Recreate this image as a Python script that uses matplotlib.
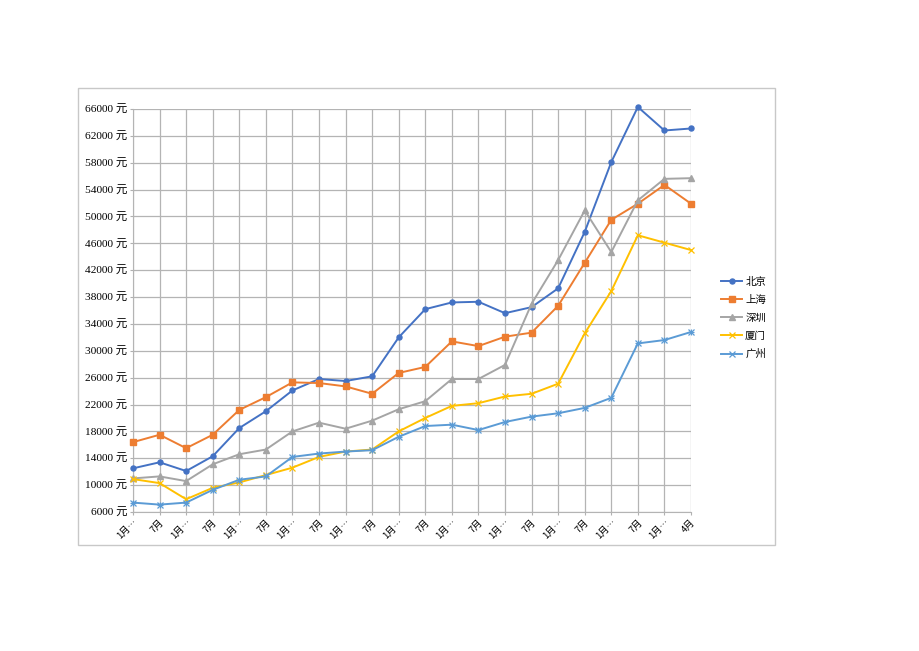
import matplotlib
matplotlib.use("Agg")
import matplotlib.pyplot as plt
from matplotlib.patches import Rectangle

plt.rcParams['font.family'] = ['Noto Sans CJK SC', 'DejaVu Sans']

x_labels = ["1月…", "7月"] * 10 + ["1月…", "4月"]

beijing = [12500, 13400, 12100, 14300, 18500, 21000, 24100, 25800, 25500, 26200,
           32000, 36200, 37200, 37300, 35600, 36500, 39300, 47700, 58100, 66300,
           62800, 63100]
shanghai = [16400, 17500, 15500, 17500, 21200, 23100, 25300, 25200, 24700, 23600,
            26700, 27600, 31400, 30700, 32100, 32700, 36700, 43100, 49500, 51900,
            54700, 51900]
shenzhen = [11000, 11300, 10600, 13100, 14600, 15300, 18000, 19300, 18400, 19600,
            21300, 22500, 25800, 25800, 27900, 37000, 43500, 50900, 44700, 52400,
            55600, 55700]
xiamen = [10900, 10300, 7900, 9600, 10400, 11500, 12600, 14200, 15000, 15300,
          18000, 20000, 21800, 22200, 23200, 23600, 25100, 32600, 38900, 47200,
          46100, 45000]
guangzhou = [7400, 7100, 7400, 9300, 10800, 11300, 14200, 14700, 15000, 15200,
             17200, 18800, 19000, 18200, 19400, 20200, 20700, 21500, 23000, 31100,
             31600, 32800]

series = [
    ("北京", beijing, "#4472C4", "o", 3.6),
    ("上海", shanghai, "#ED7D31", "s", 5.0),
    ("深圳", shenzhen, "#A5A5A5", "^", 4.3),
    ("厦门", xiamen, "#FFC000", "x", 4.5),
    ("广州", guangzhou, "#5B9BD5", "x", 4.5),
]

W, H = 920, 651
fig = plt.figure(figsize=(W / 100, H / 100), dpi=100)
fig.patch.set_facecolor("white")

# chart frame
fig.patches.append(Rectangle((78 / W, 1 - 545 / H), (775 - 78) / W, (545 - 88) / H,
                             transform=fig.transFigure, fill=False,
                             edgecolor="#c8c8c8", linewidth=1.0))

ax = fig.add_axes([133 / W, 1 - 512 / H, (691 - 133) / W, (512 - 109) / H])
xs = list(range(len(x_labels)))
for name, vals, color, marker, ms in series:
    kw = {}
    if marker == "x":
        kw = dict(markeredgewidth=0.9)
    ax.plot(xs, vals, color=color, marker=marker, markersize=ms, linewidth=1.4,
            label=name, clip_on=False, zorder=3, **kw)
# add a '+' overlay for 广州 to mimic asterisk marker
ax.plot(xs, guangzhou, color="#5B9BD5", marker="+", markersize=4.5, linewidth=0,
        markeredgewidth=0.9, clip_on=False, zorder=3)

ax.set_xlim(0, len(x_labels) - 1)
ax.set_ylim(6000, 66000)
yt = list(range(6000, 66001, 4000))
ax.set_yticks(yt)
ax.set_yticklabels([f"{v} 元" for v in yt],
                   fontfamily=['Liberation Serif', 'Noto Sans CJK SC'], fontsize=8.2)
ax.set_xticks(xs)
ax.set_xticklabels(x_labels, rotation=45, ha="right", rotation_mode="anchor",
                   fontsize=6.8)
ax.tick_params(axis="both", length=2, color="#b0b0b0", pad=2)
ax.grid(True, color="#b4b4b4", linewidth=0.9)
ax.set_axisbelow(True)
for s in ax.spines.values():
    s.set_visible(False)
ax.spines['left'].set_visible(True)
ax.spines['left'].set_color("#b4b4b4")
ax.spines['bottom'].set_visible(True)
ax.spines['bottom'].set_color("#b4b4b4")

handles, labels = ax.get_legend_handles_labels()
leg = fig.legend(handles[:5], labels[:5], loc="center left",
                 bbox_to_anchor=(716 / W, 1 - 318 / H), frameon=False,
                 fontsize=7.5, handlelength=2.0, handletextpad=0.3,
                 labelspacing=0.78, borderpad=0)

fig.savefig("out.png", dpi=100, facecolor="white")
